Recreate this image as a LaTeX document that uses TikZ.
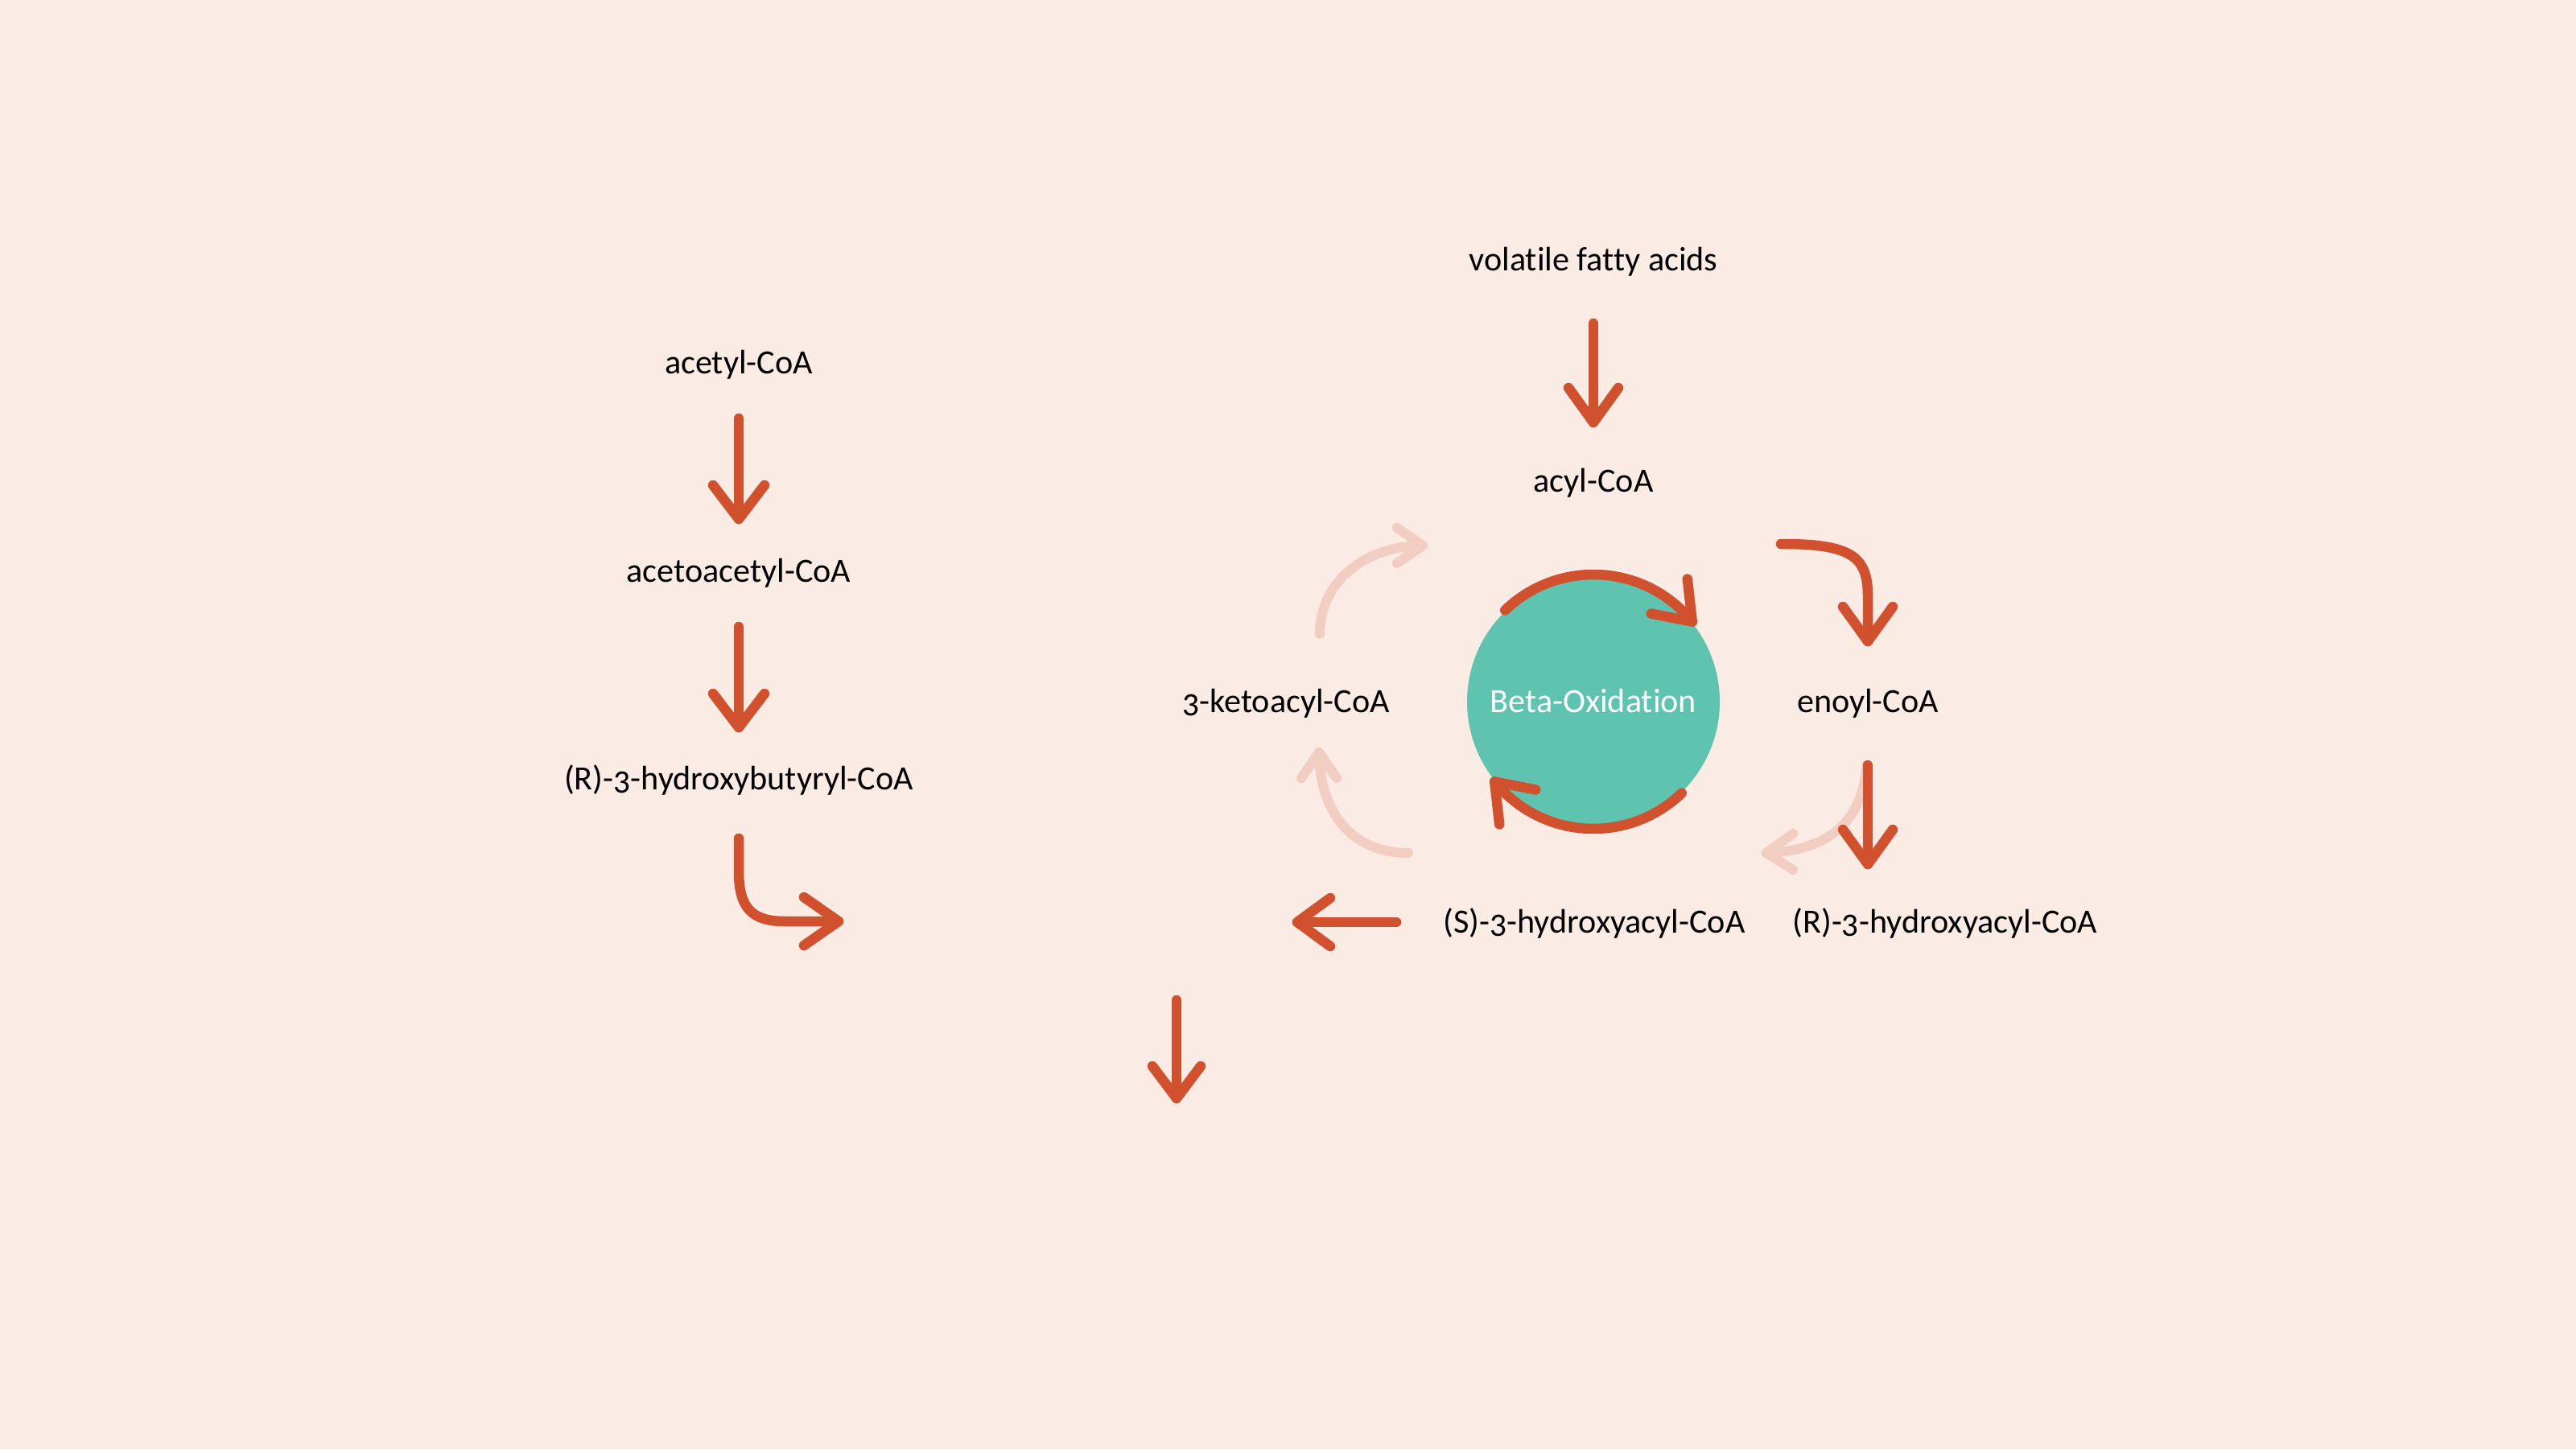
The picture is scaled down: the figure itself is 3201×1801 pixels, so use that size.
\documentclass[tikz,border=0pt]{standalone}
\usepackage{fontspec}
\setmainfont{Carlito}[Numbers=OldStyle, Ligatures={CommonOff}]
\usetikzlibrary{calc}
\definecolor{bgc}{HTML}{FAEBE4}
\definecolor{darkc}{HTML}{D1502D}
\definecolor{lightc}{HTML}{F2CDC2}
\definecolor{tealc}{HTML}{5EC4B0}
\begin{document}
\begin{tikzpicture}[x=0.1mm,y=0.1mm,
  lbl/.style={anchor=base, inner sep=0pt, font=\fontsize{12}{14}\selectfont, text=black},
  darkline/.style={draw=darkc, line width=1.25mm, line cap=round, line join=round},
  lightline/.style={draw=lightc, line width=1.2mm, line cap=round, line join=round}]
\useasboundingbox (0,0) rectangle (3201,1801);
\fill[bgc] (0,0) rectangle (3201,1801);

% ---------- left pathway ----------
\node[lbl] (acetyl) at (918,1337) {acetyl-CoA};
\node[lbl] (acetoacetyl) at (918,1078) {acetoacetyl-CoA};
\node[lbl] (hbcoa) at (918,820) {(R)-3-hydroxybutyryl-CoA};

\coordinate (a1s) at (918,1281); \coordinate (a1t) at (918,1156);
\coordinate (a2s) at (918,1022); \coordinate (a2t) at (918,897);
\coordinate (a3s) at (918,759);  \coordinate (a3t) at (1042,656);
\coordinate (a4s) at (1462,558); \coordinate (a4t) at (1462,436);

\draw[darkline] (a1s) -- (a1t);
\draw[darkline] ($(a1t)+(-32,42)$) -- (a1t) -- ($(a1t)+(32,42)$);
\draw[darkline] (a2s) -- (a2t);
\draw[darkline] ($(a2t)+(-32,42)$) -- (a2t) -- ($(a2t)+(32,42)$);
\draw[darkline] (a3s) -- (918,718) .. controls (918,672) and (935,656) .. (975,656) -- (a3t);
\draw[darkline] ($(a3t)+(-43,30)$) -- (a3t) -- ($(a3t)+(-43,-30)$);
\draw[darkline] (a4s) -- (a4t);
\draw[darkline] ($(a4t)+(-30,40)$) -- (a4t) -- ($(a4t)+(30,40)$);

% ---------- beta-oxidation cycle ----------
\node[lbl] (vfa) at (1980,1464) {volatile fatty acids};
\node[lbl] (acyl) at (1980,1190) {acyl-CoA};
\node[lbl] (keto) at (1598,916) {3-ketoacyl-CoA};
\node[lbl] (enoyl) at (2321,916) {enoyl-CoA};
\node[lbl] (shacyl) at (1981,642) {(S)-3-hydroxyacyl-CoA};
\node[lbl] (rhacyl) at (2417,642) {(R)-3-hydroxyacyl-CoA};

\coordinate (c) at (1980,929);
\fill[tealc] (c) circle[radius=157];
\node[lbl, text=white] (beta) at (1980,916) {Beta-Oxidation};

% light (reverse) arrows
\coordinate (l1s) at (2319,850); \coordinate (l1t) at (2195,741);
\coordinate (l2s) at (1750,741); \coordinate (l2t) at (1639,866);
\coordinate (l3s) at (1640,1013); \coordinate (l3t) at (1768,1123);
\draw[lightline] (l1s) .. controls (2315,775) and (2265,743) .. (l1t);
\draw[lightline] ($(l1t)+(33,24)$) -- (l1t) -- ($(l1t)+(33,-21)$);
\draw[lightline] (l2s) .. controls (1680,741) and (1640,791) .. (l2t);
\draw[lightline] ($(l2t)+(-22,-32)$) -- (l2t) -- ($(l2t)+(22,-32)$);
\draw[lightline] (l3s) .. controls (1640,1081) and (1700,1123) .. (l3t);
\draw[lightline] ($(l3t)+(-32,22)$) -- (l3t) -- ($(l3t)+(-32,-22)$);

% dark arrows
\coordinate (d1s) at (1980,1399); \coordinate (d1t) at (1980,1276);
\coordinate (d2s) at (2213,1125); \coordinate (d2t) at (2321,1004);
\coordinate (d3s) at (2321,850);  \coordinate (d3t) at (2321,727);
\coordinate (d4s) at (1735,655);  \coordinate (d4t) at (1612,655);
\draw[darkline] (d1s) -- (d1t);
\draw[darkline] ($(d1t)+(-31,43)$) -- (d1t) -- ($(d1t)+(31,43)$);
\draw[darkline] (d2s) .. controls (2300,1125) and (2321,1110) .. (2321,1060) -- (d2t);
\draw[darkline] ($(d2t)+(-31,43)$) -- (d2t) -- ($(d2t)+(31,43)$);
\draw[darkline] (d3s) -- (d3t);
\draw[darkline] ($(d3t)+(-31,43)$) -- (d3t) -- ($(d3t)+(31,43)$);
\draw[darkline] (d4s) -- (d4t);
\draw[darkline] ($(d4t)+(41,30)$) -- (d4t) -- ($(d4t)+(41,-30)$);

% arcs around the circle
\coordinate (ct) at ($(c)+(39:158)$);
\coordinate (cb) at ($(c)+(219:158)$);
\draw[darkline] ($(c)+(134:158)$) arc[start angle=134, end angle=39, radius=158];
\draw[darkline] ($(ct)+(-6,53)$) -- (ct) -- ($(ct)+(-51,10)$);
\draw[darkline] ($(c)+(-46:158)$) arc[start angle=-46, end angle=-141, radius=158];
\draw[darkline] ($(cb)+(6,-53)$) -- (cb) -- ($(cb)+(51,-10)$);
\end{tikzpicture}
\end{document}
